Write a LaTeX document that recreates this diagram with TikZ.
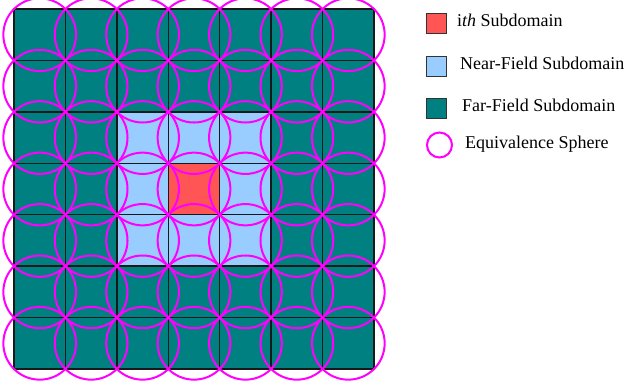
\documentclass[tikz,border=0pt]{standalone}
\usepackage{fontspec}
\setmainfont{Liberation Serif}
\usetikzlibrary{positioning}
\definecolor{farteal}{RGB}{0,128,128}
\definecolor{nearblue}{RGB}{153,204,255}
\definecolor{ithred}{RGB}{255,85,85}
\definecolor{spheremag}{RGB}{255,0,255}

\begin{document}
\begin{tikzpicture}[x=1pt, y=-1pt,
    cell/.style={draw=black!90, line width=1.3pt},
    sphere/.style={draw=spheremag, line width=2pt},
    keybox/.style={draw=black!80, line width=1pt, minimum width=20pt, minimum height=20pt, inner sep=0pt},
    keytext/.style={inner sep=0pt, text height=0.66em, text depth=0pt, font=\fontsize{18}{20}\selectfont}]
    \useasboundingbox (0,0) rectangle (626,386);
    \pgfmathsetmacro{\a}{360/7}
    % subdomains
    \foreach \i in {0,...,6} {
        \foreach \j in {0,...,6} {
            \pgfmathtruncatemacro{\d}{max(abs(\i-3),abs(\j-3))}
            \ifcase\d \def\fillc{ithred}\or \def\fillc{nearblue}\else \def\fillc{farteal}\fi
            \filldraw[cell, fill=\fillc] (14+\i*\a, 9+\j*\a) rectangle ++(\a,\a);
        }
    }
    % equivalence spheres
    \foreach \i in {0,...,6} {
        \foreach \j in {0,...,6} {
            \draw[sphere] (14+\i*\a+\a/2, 9+\j*\a+\a/2) circle [radius=0.7071*\a];
        }
    }
    % legend
    \node[keybox, fill=ithred] (ibox) at (436.5,23.5) {};
    \node[keybox, fill=nearblue, below=22pt of ibox] (nbox) {};
    \node[keybox, fill=farteal, below=21pt of nbox] (fbox) {};
    \node[circle, draw=spheremag, line width=2pt, minimum size=25pt, inner sep=0pt] (sbox) at (439.5,145) {};
    \node[keytext, right=10pt of ibox] (itext) {i\textit{th} Subdomain};
    \node[keytext, right=13pt of nbox] (ntext) {Near-Field Subdomain};
    \node[keytext, right=15pt of fbox] (ftext) {Far-Field Subdomain};
    \node[keytext, right=12pt of sbox] (stext) {Equivalence Sphere};
\end{tikzpicture}
\end{document}
